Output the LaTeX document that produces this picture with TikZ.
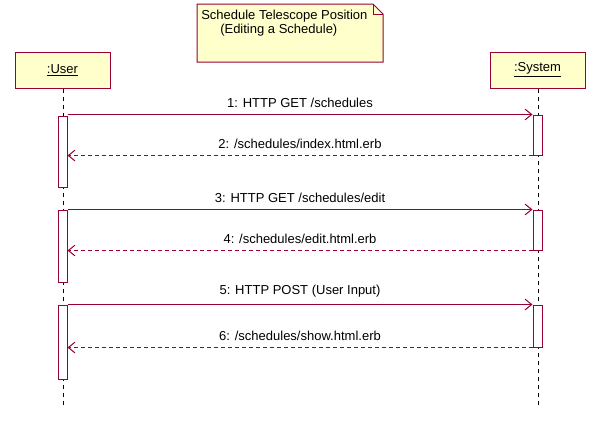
\documentclass[tikz,border=0pt]{standalone}
\usepackage{fontspec}
\setmainfont{Liberation Sans}
\usetikzlibrary{arrows.meta,fit,shapes.misc}
\definecolor{umlred}{HTML}{990033}
\definecolor{umlfill}{HTML}{FFFFCC}
\begin{document}
\begin{tikzpicture}[x=0.75pt,y=-0.75pt,
  font=\fontsize{9.75}{12}\selectfont,
  obj/.style={draw=umlred, fill=umlfill, line width=0.75pt, inner sep=0pt},
  actbar/.style={draw=umlred, fill=white, line width=0.75pt, inner sep=0pt},
  lifeline/.style={draw=black, line width=0.75pt, dash pattern=on 3pt off 3pt},
  call/.style={draw=umlred, line width=0.75pt, -{Straight Barb[length=5pt,width=8pt]}},
  reply/.style={draw=umlred, line width=0.75pt, dash pattern=on 3pt off 2.25pt, -{Straight Barb[length=5pt,width=8pt]}},
  lbl/.style={inner sep=1pt, text=black}]
\useasboundingbox (0,0) rectangle (603,429);
% note
\draw[umlred, fill=umlfill, line width=0.75pt] (197,4) -- (373,4) -- (383,14) -- (383,62) -- (197,62) -- cycle;
\draw[umlred, line width=0.75pt] (373,4) -- (373,14) -- (383,14);
\node[anchor=base west, inner sep=0] (notet1) at (201,19) {Schedule Telescope Position};
\node[anchor=base west, inner sep=0] (notet2) at (220,33) {(Editing a Schedule)};
% objects
\coordinate (u1) at (15,52); \coordinate (u2) at (110,88);
\node[obj, fit=(u1)(u2)] (user) {};
\node at (user.center) {\underline{:User}};
\coordinate (s1) at (490,52); \coordinate (s2) at (585,88);
\node[obj, fit=(s1)(s2)] (system) {};
\node at (system.center) {\underline{:System}};
% lifelines
\coordinate (uend) at (63,408);
\coordinate (send) at (538,408);
\draw[lifeline] (user.south -| uend) -- (uend);
\draw[lifeline] (system.south -| send) -- (send);
% activations
\coordinate (ua1a) at (58,116); \coordinate (ua1b) at (67,187);
\node[actbar, fit=(ua1a)(ua1b)] (ua1) {};
\coordinate (ua2a) at (58,210); \coordinate (ua2b) at (67,282);
\node[actbar, fit=(ua2a)(ua2b)] (ua2) {};
\coordinate (ua3a) at (58,305); \coordinate (ua3b) at (67,379);
\node[actbar, fit=(ua3a)(ua3b)] (ua3) {};
\coordinate (sa1a) at (533,115); \coordinate (sa1b) at (542,155);
\node[actbar, fit=(sa1a)(sa1b)] (sa1) {};
\coordinate (sa2a) at (533,210); \coordinate (sa2b) at (542,250);
\node[actbar, fit=(sa2a)(sa2b)] (sa2) {};
\coordinate (sa3a) at (533,305); \coordinate (sa3b) at (542,347);
\node[actbar, fit=(sa3a)(sa3b)] (sa3) {};
% messages
\draw[call] (ua1.north east |- sa1.north) -- node[lbl, above=4pt] {1: HTTP GET /schedules} (sa1.north west);
\draw[reply] (sa1.south west) -- node[lbl, above=4pt] {2: /schedules/index.html.erb} (ua1.east |- sa1.south);
\draw[call] (ua2.north east) -- node[lbl, above=4pt] {3: HTTP GET /schedules/edit} (sa2.north west);
\draw[reply] (sa2.south west) -- node[lbl, above=4pt] {4: /schedules/edit.html.erb} (ua2.east |- sa2.south);
\draw[call] (ua3.north east) -- node[lbl, above=4pt] {5: HTTP POST (User Input)} (sa3.north west);
\draw[reply] (sa3.south west) -- node[lbl, above=4pt] {6: /schedules/show.html.erb} (ua3.east |- sa3.south);
\end{tikzpicture}
\end{document}
